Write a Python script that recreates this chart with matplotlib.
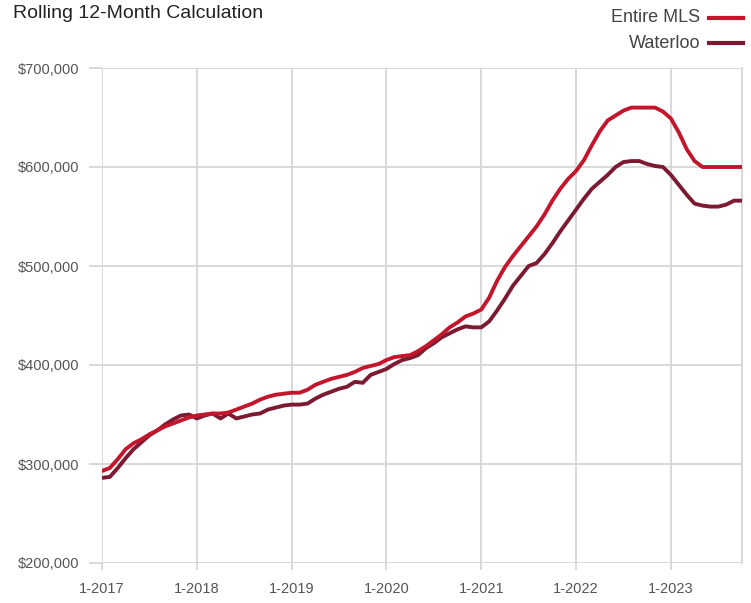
import numpy as np
import matplotlib.pyplot as plt
from matplotlib.lines import Line2D
from matplotlib.ticker import FuncFormatter

plt.rcParams['font.family'] = ['Liberation Sans Narrow', 'Liberation Sans', 'DejaVu Sans']

# monthly, 1-2017 .. 10-2023
entire_mls = [
    293, 296, 305, 315, 321, 325, 330, 334, 338, 341, 344, 347,
    349, 350, 351, 351, 352, 355, 358, 361, 365, 368, 370, 371,
    372, 372, 375, 380, 383, 386, 388, 390, 393, 397, 399, 401,
    405, 408, 409, 410, 414, 419, 425, 431, 438, 443, 449, 452,
    456, 468, 485, 499, 510, 520, 530, 540, 552, 566, 578, 588,
    596, 607, 622, 636, 647, 652, 657, 660, 660, 660, 660, 656,
    649, 635, 618, 606, 600, 600, 600, 600, 600, 600,
]
waterloo = [
    286, 287, 296, 306, 315, 322, 329, 334, 340, 345, 349, 350,
    346, 349, 351, 346, 351, 346, 348, 350, 351, 355, 357, 359,
    360, 360, 361, 366, 370, 373, 376, 378, 383, 382, 390, 393,
    396, 401, 405, 407, 410, 417, 422, 428, 432, 436, 439, 438,
    438, 444, 455, 467, 480, 490, 500, 503, 512, 523, 535, 546,
    557, 568, 578, 585, 592, 600, 605, 606, 606, 603, 601, 600,
    592, 582, 572, 563, 561, 560, 560, 562, 566, 566,
]
years = ['1-2017', '1-2018', '1-2019', '1-2020', '1-2021', '1-2022', '1-2023']

mls = np.array(entire_mls) * 1000
wat = np.array(waterloo) * 1000
months = np.arange(len(mls))

red = '#c3162c'
maroon = '#7b1a30'
grid = '#d6d6d6'

fig = plt.figure(figsize=(7.51, 6.03), dpi=100)
ax = fig.add_axes([102 / 751, 40 / 603, 640 / 751, 495 / 603])

ax.plot(months, wat, color=maroon, lw=2.8, solid_capstyle='round', zorder=3)
ax.plot(months, mls, color=red, lw=2.8, solid_capstyle='round', zorder=4)

ax.set_xlim(0, 81)
ax.set_ylim(200000, 700000)
ax.set_xticks(np.arange(0, 84, 12)[:len(years)])
ax.set_xticklabels(years)
ax.set_yticks(np.arange(200000, 700001, 100000))
ax.yaxis.set_major_formatter(FuncFormatter(lambda v, p: f'${v:,.0f}'))

ax.grid(True, color=grid, lw=1.3)
ax.set_axisbelow(True)
for s in ['top', 'left', 'bottom']:
    ax.spines[s].set_visible(False)
ax.spines['right'].set_color(grid)
ax.spines['right'].set_linewidth(1.3)
ax.tick_params(axis='both', color=grid, width=1.3, labelcolor='#555555', labelsize=10.5)
ax.tick_params(axis='x', length=5, pad=9)
ax.tick_params(axis='y', length=9.5, pad=7)

fig.text(13 / 751, 1 - 13 / 603, 'Rolling 12-Month Calculation', fontsize=14, color='#222222',
         ha='left', va='center')

for label, col, yp in [('Entire MLS', red, 18), ('Waterloo', maroon, 43)]:
    y = 1 - yp / 603
    fig.text(700 / 751, y, label, fontsize=13, color='#444444', ha='right', va='center')
    fig.add_artist(Line2D([709 / 751, 743 / 751], [y, y], color=col, lw=3,
                          transform=fig.transFigure))

fig.savefig('out.png', dpi=100)
